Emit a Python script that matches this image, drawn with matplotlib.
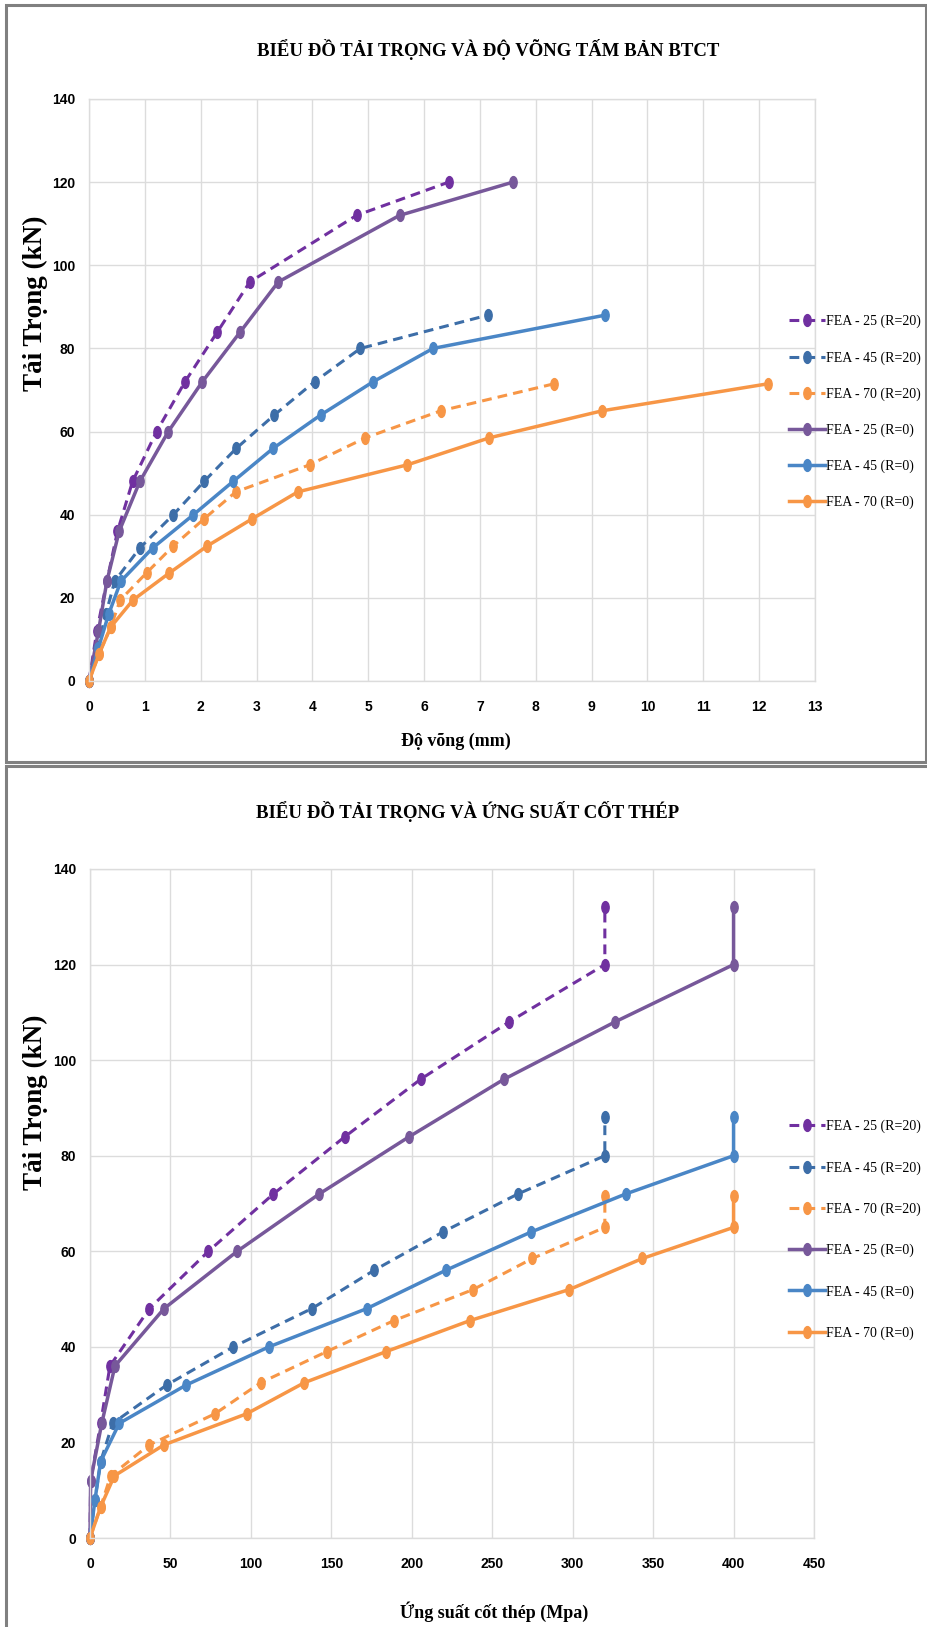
import matplotlib
matplotlib.use("Agg")
import matplotlib.pyplot as plt
from matplotlib.path import Path
from matplotlib.transforms import Affine2D
from matplotlib.patches import Rectangle

# ---- data: load (kN) vs deflection (mm)
p25_r20_x = [0, 0.14, 0.32, 0.51, 0.78, 1.21, 1.72, 2.30, 2.88, 4.79, 6.44]
p25_r0_x = [0, 0.17, 0.32, 0.54, 0.91, 1.42, 2.03, 2.71, 3.39, 5.56, 7.59]
p25_y = [0, 12, 24, 36, 48, 60, 72, 84, 96, 112, 120]

p45_r20_x = [0, 0.15, 0.30, 0.46, 0.91, 1.51, 2.06, 2.64, 3.32, 4.04, 4.86, 7.14]
p45_r0_x = [0, 0.17, 0.35, 0.57, 1.14, 1.87, 2.58, 3.30, 4.15, 5.09, 6.16, 9.24]
p45_y = [0, 8, 16, 24, 32, 40, 48, 56, 64, 72, 80, 88]

p70_r20_x = [0, 0.18, 0.39, 0.56, 1.03, 1.51, 2.06, 2.63, 3.95, 4.95, 6.30, 8.33]
p70_r0_x = [0, 0.18, 0.39, 0.79, 1.44, 2.12, 2.92, 3.74, 5.70, 7.17, 9.19, 12.16]
p70_y = [0, 6.5, 13, 19.5, 26, 32.5, 39, 45.5, 52, 58.5, 65, 71.5]

# ---- data: load (kN) vs steel stress (MPa)
s25_r20_x = [0, 0.4, 6.6, 12.4, 36.9, 73.6, 114, 158.5, 205.5, 260.5, 320, 320]
s25_r0_x = [0, 0.4, 7.3, 15.5, 46, 91.5, 142.5, 198.5, 257.3, 326.3, 400, 400]
s25_y = [0, 12, 24, 36, 48, 60, 72, 84, 96, 108, 120, 132]

s45_r20_x = [0, 3.1, 6.6, 14.1, 47.6, 89.1, 137.8, 176.5, 219.1, 266, 320, 320]
s45_r0_x = [0, 3.1, 6.6, 18.2, 59.7, 111.2, 172, 221, 273.9, 333, 400, 400]
s45_y = [0, 8, 16, 24, 32, 40, 48, 56, 64, 72, 80, 88]

s70_r20_x = [0, 6.6, 12.8, 36.9, 77.7, 106.1, 147.1, 188.9, 238.2, 275, 320, 320]
s70_r0_x = [0, 6.6, 15.1, 46, 97.4, 133.2, 184, 236.2, 297.9, 343.4, 400, 400]
s70_y = [0, 6.5, 13, 19.5, 26, 32.5, 39, 45.5, 52, 58.5, 65, 71.5]

labels = ["FEA - 25 (R=20)", "FEA - 45 (R=20)", "FEA - 70 (R=20)",
          "FEA - 25 (R=0)", "FEA - 45 (R=0)", "FEA - 70 (R=0)"]
colors = ["#7030A0", "#3D6EA8", "#F79646", "#77589A", "#4A86C6", "#F79646"]

W, H = 928, 1627
fig = plt.figure(figsize=(W / 100, H / 100), dpi=100)

# chart frames
fig.add_artist(Rectangle((6 / W, 1 - 762 / H), 920 / W, 757 / H, transform=fig.transFigure,
                         fill=False, edgecolor="#808080", lw=2.2))
fig.add_artist(Rectangle((6 / W, -0.05), 940 / W, 0.05 + (H - 766) / H,
                         transform=fig.transFigure, fill=False, edgecolor="#808080", lw=2.2))

ell = Path.unit_circle().transformed(Affine2D().scale(0.62, 1.0))
dash = (0, (3.2, 2.0))


def axes_px(l, r, t, b):
    return fig.add_axes([l / W, 1 - b / H, (r - l) / W, (b - t) / H])


def style(ax, xmax, xstep):
    ax.set_xlim(0, xmax)
    ax.set_ylim(0, 140)
    ax.set_xticks(range(0, xmax + 1, xstep))
    ax.set_yticks(range(0, 141, 20))
    ax.grid(True, color="#DCDCDC", lw=1)
    ax.set_axisbelow(True)
    for s in ax.spines.values():
        s.set_color("#DCDCDC")
        s.set_linewidth(1)
    ax.tick_params(length=0, pad=10)
    ax.tick_params(axis="x", pad=14)
    for t in ax.get_xticklabels() + ax.get_yticklabels():
        t.set_fontfamily("Liberation Sans")
        t.set_fontweight("bold")
        t.set_fontsize(10)


def draw(ax, series):
    for i, (x, y) in enumerate(series):
        ls = dash if i < 3 else "-"
        lw = 2.2 if i < 3 else 2.5
        ax.plot(x, y, ls=ls, lw=lw, color=colors[i], marker=ell, ms=8.5,
                mfc=colors[i], mec=colors[i], label=labels[i], clip_on=False)


# ---- top chart
ax1 = axes_px(89, 815, 99, 681)
draw(ax1, [(p25_r20_x, p25_y), (p45_r20_x, p45_y), (p70_r20_x, p70_y),
           (p25_r0_x, p25_y), (p45_r0_x, p45_y), (p70_r0_x, p70_y)])
style(ax1, 13, 1)
ax1.legend(loc="upper left", bbox_to_anchor=(789 / W, 1 - 315 / H), bbox_transform=fig.transFigure,
           frameon=False, prop={"family": "Liberation Serif", "size": 10}, handlelength=2.6,
           handletextpad=0.1, labelspacing=1.63, borderpad=0, borderaxespad=0)

fig.text(488 / W, 1 - 50 / H, "BIỂU ĐỒ TẢI TRỌNG VÀ ĐỘ VÕNG TẤM BẢN BTCT", ha="center", va="center",
         family="Liberation Serif", weight="bold", fontsize=13.5)
fig.text(456 / W, 1 - 741 / H, "Độ võng (mm)", ha="center", va="center",
         family="Liberation Serif", weight="bold", fontsize=13)
fig.text(35 / W, 1 - 303 / H, "Tải Trọng (kN)", ha="center", va="center", rotation=90,
         family="Liberation Serif", weight="bold", fontsize=19.5)

# ---- bottom chart
ax2 = axes_px(90, 814, 869, 1538)
draw(ax2, [(s25_r20_x, s25_y), (s45_r20_x, s45_y), (s70_r20_x, s70_y),
           (s25_r0_x, s25_y), (s45_r0_x, s45_y), (s70_r0_x, s70_y)])
style(ax2, 450, 50)
ax2.legend(loc="upper left", bbox_to_anchor=(789 / W, 1 - 1120 / H), bbox_transform=fig.transFigure,
           frameon=False, prop={"family": "Liberation Serif", "size": 10}, handlelength=2.6,
           handletextpad=0.1, labelspacing=2.0, borderpad=0, borderaxespad=0)

fig.text(468 / W, 1 - 812 / H, "BIỂU ĐỒ TẢI TRỌNG VÀ ỨNG SUẤT CỐT THÉP", ha="center", va="center",
         family="Liberation Serif", weight="bold", fontsize=13.5)
fig.text(494 / W, 1 - 1612 / H, "Ứng suất cốt thép (Mpa)", ha="center", va="center",
         family="Liberation Serif", weight="bold", fontsize=13)
fig.text(35 / W, 1 - 1102 / H, "Tải Trọng (kN)", ha="center", va="center", rotation=90,
         family="Liberation Serif", weight="bold", fontsize=19.5)

fig.savefig("out.png", dpi=100)
